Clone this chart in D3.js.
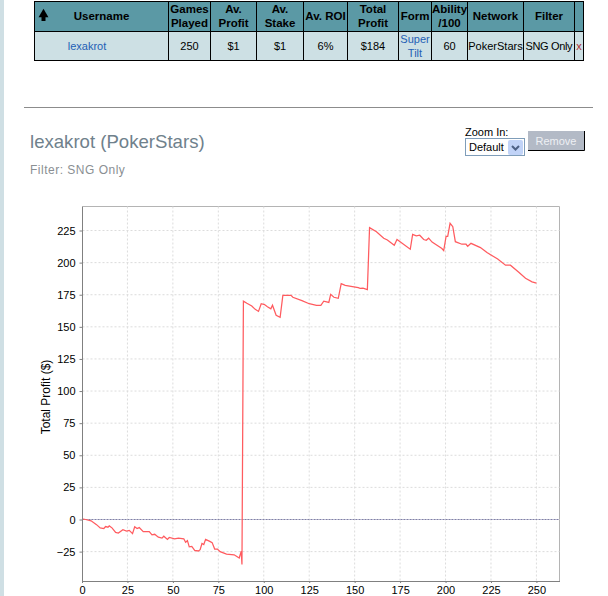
<!DOCTYPE html>
<html>
<head>
<meta charset="utf-8">
<script src="https://cdn.jsdelivr.net/npm/d3@7"></script>
<style>
  html, body { margin: 0; padding: 0; background: #fff; overflow: hidden; }
  text { font-family: "Liberation Sans", Arial, sans-serif; }
</style>
</head>
<body>
<div id="page"></div>
<script>
// table
var headerLines = [["Username"], ["Games", "Played"], ["Av.", "Profit"], ["Av.", "Stake"], ["Av. ROI"],
                   ["Total", "Profit"], ["Form"], ["Ability", "/100"], ["Network"], ["Filter"], [""]];
var rowLines = [["lexakrot"], ["250"], ["$1"], ["$1"], ["6%"], ["$184"], ["Super", "Tilt"], ["60"],
                ["PokerStars"], ["SNG Only"], ["x"]];
var columnEdges = [34.5, 168.5, 210.5, 256.5, 303.5, 347.5, 398.5, 431.5, 467.5, 523.5, 574.5, 583.5];

// chart data
var games = [0, 2, 5, 8, 10, 12, 13, 14.3, 15, 16.5, 18.5, 20, 22.5, 24.5, 26, 27.8, 29, 30.3, 31.5, 33.7, 37, 38.5, 40, 42, 44, 45, 47, 48, 51, 53, 56, 57, 58, 59, 60.4, 62, 64, 65, 66, 67, 68, 70.3, 71.6, 73, 74.5, 76, 79.5, 83.7, 86.5, 87.6, 88,
             88.8, 90.7, 93.4, 95.3, 97.1, 98.6, 100.4, 102, 103.9, 104.8, 106.8, 109, 110.5, 115, 116, 121, 125, 129, 131.4, 133, 135.8, 136.8, 138.6, 141, 142.6, 144.8, 152, 153, 154.6, 157, 158.2, 162, 166, 168, 171.8, 173.3, 175,
             180.6, 181.9, 183.9, 185.8, 188, 189.4, 190.7, 192.6, 195.3, 198, 199, 200.3, 201.2, 202.5, 204, 205.4, 209, 211.3, 212.2, 214, 219.2, 222.8, 228.7, 233, 235.7, 240.3, 244, 247.6, 250];
var profit = [0.5, 0, -1, -4, -6.5, -7, -5.5, -6, -5, -6.5, -10, -10.5, -8, -9, -8.5, -11, -5.7, -7, -6.3, -9.4, -9.4, -12, -11.5, -13.8, -14.5, -13, -15.5, -14, -15, -14.5, -15, -17.7, -16.5, -21.3, -21, -24, -24.5, -23.5, -18.7, -19.5, -15.5, -17, -18, -23, -23, -25, -27, -27.5, -30, -24.7, -35,
              170, 168.3, 166.2, 163.6, 162, 168, 167.3, 165.7, 164, 166.8, 159, 157.4, 174.5, 174.5, 173, 170.4, 168, 166.8, 166.8, 170, 169, 175.3, 173, 172.2, 183.6, 182.3, 180.5, 180, 180.2, 179, 227.2, 224, 219, 217.6, 213.5, 218, 216.3,
              210.4, 222, 220.8, 221.3, 218, 217.4, 219, 216, 213.5, 211, 209.3, 220.5, 220.5, 230.6, 228, 216.3, 214.3, 214.3, 212.7, 215, 211.7, 207.8, 202.8, 198, 198, 192.5, 187.8, 185, 184];
var xTicks = [0, 25, 50, 75, 100, 125, 150, 175, 200, 225, 250];
var yTicks = [-25, 0, 25, 50, 75, 100, 125, 150, 175, 200, 225];

var svg = d3.select("#page").append("svg")
    .attr("width", 608)
    .attr("height", 596)
    .style("display", "block");

// page furniture
svg.append("rect").attr("width", 4).attr("height", 596).attr("fill", "#cfdfe4");
svg.append("line").attr("x1", 24).attr("x2", 593).attr("y1", 107.5).attr("y2", 107.5).attr("stroke", "#8c8c8c");

// table cells
var tableRows = [
    {lines: headerLines, top: 1.5, bottom: 31.5, fill: "#5b99a5", dy: 3},
    {lines: rowLines, top: 31.5, bottom: 60.5, fill: "#cde0e4", dy: 4}
];
tableRows.forEach(function(row, r) {
    row.lines.forEach(function(lines, c) {
        var x0 = columnEdges[c], x1 = columnEdges[c + 1];
        svg.append("rect")
            .attr("x", x0).attr("y", row.top)
            .attr("width", x1 - x0).attr("height", row.bottom - row.top)
            .attr("fill", row.fill).attr("stroke", "#000").attr("stroke-width", 1);

        var color = "#000";
        if (r == 1 && (c == 0 || c == 6)) color = "#1f5fb5";
        if (r == 1 && c == 10) color = "#b03030";
        var midY = (row.top + row.bottom) / 2;
        // the username cell text sits left of centre in the data row
        var midX = (r == 1 && c == 0) ? 87 : (x0 + x1) / 2;
        lines.forEach(function(t, i) {
            svg.append("text")
                .attr("x", midX)
                .attr("y", midY + row.dy + (i - (lines.length - 1) / 2) * 14)
                .attr("text-anchor", "middle")
                .attr("font-size", r == 0 ? 11.5 : 11)
                .attr("font-weight", r == 0 ? "bold" : "normal")
                .attr("fill", color)
                .attr("textLength", (r == 1 && c == 9) ? 47 : null)
                .text(t);
        });
    });
});

// sort arrow in the username header
svg.append("path")
    .attr("d", d3.symbol(d3.symbolTriangle, 42))
    .attr("transform", "translate(43.5,14.5)")
    .attr("fill", "#000");
svg.append("rect").attr("x", 41.5).attr("y", 15).attr("width", 4).attr("height", 6).attr("fill", "#000");

// chart heading
svg.append("text").attr("x", 30).attr("y", 148).attr("font-size", 18.6).attr("fill", "#6f818c").text("lexakrot (PokerStars)");
svg.append("text").attr("x", 30).attr("y", 174).attr("font-size", 12).attr("letter-spacing", 0.5).attr("fill", "#8a8f93").text("Filter: SNG Only");

// zoom controls
svg.append("text").attr("x", 465).attr("y", 136).attr("font-size", 11).attr("fill", "#000").text("Zoom In:");
svg.append("rect").attr("x", 465.5).attr("y", 138.5).attr("width", 59).attr("height", 17)
    .attr("fill", "#fff").attr("stroke", "#7f9db9");
svg.append("text").attr("x", 469).attr("y", 151).attr("font-size", 11).attr("fill", "#000").text("Default");
svg.append("rect").attr("x", 508).attr("y", 140).attr("width", 15).attr("height", 15).attr("rx", 2).attr("fill", "#c1d3f7");
svg.append("path").attr("d", "M512,146 L515.5,149.5 L519,146").attr("fill", "none")
    .attr("stroke", "#4d6185").attr("stroke-width", 2);
svg.append("rect").attr("x", 528).attr("y", 131).attr("width", 56).attr("height", 19).attr("fill", "#b3bac6");
svg.append("path").attr("d", "M528,150.5 H584.5 V131").attr("fill", "none").attr("stroke", "#000");
svg.append("text").attr("x", 556).attr("y", 145).attr("text-anchor", "middle").attr("font-size", 11)
    .attr("fill", "#eef0f4").text("Remove");

// plot area
var plot = {left: 82.5, right: 559.5, top: 206.5, bottom: 581};
var xScale = d3.scaleLinear().domain([0, 262.7]).range([plot.left - 0.5, plot.right]);
var yScale = d3.scaleLinear().domain([0, 225]).range([519.5, 230.5]);

svg.append("path")
    .attr("d", `M${plot.left},${plot.top} H${plot.right} V${plot.bottom}`)
    .attr("fill", "none").attr("stroke", "#b4b4b4");

// grid
var grid = svg.append("g").attr("stroke", "#dcdcdc").attr("stroke-dasharray", "2,2");
grid.selectAll(".gx").data(xTicks.slice(1)).join("line")
    .attr("x1", d => xScale(d)).attr("x2", d => xScale(d))
    .attr("y1", plot.top).attr("y2", plot.bottom);
grid.selectAll(".gy").data(yTicks).join("line")
    .attr("x1", plot.left).attr("x2", plot.right)
    .attr("y1", d => yScale(d)).attr("y2", d => yScale(d));

// zero line
svg.append("line")
    .attr("x1", plot.left).attr("x2", plot.right)
    .attr("y1", yScale(0)).attr("y2", yScale(0))
    .attr("stroke", "#7f7fa8").attr("stroke-dasharray", "2,1");

// profit line
var profitLine = d3.line().x(d => xScale(d)).y((d, i) => yScale(profit[i]));
svg.append("path")
    .attr("d", profitLine(games))
    .attr("fill", "none").attr("stroke", "#ff5b5f").attr("stroke-width", 1.25);

// axes
var xAxis = svg.append("g").attr("transform", `translate(0,${plot.bottom})`)
    .call(d3.axisBottom(xScale).tickValues(xTicks).tickSizeInner(2).tickSizeOuter(0).tickPadding(3));
var yAxis = svg.append("g").attr("transform", `translate(${plot.left},0)`)
    .call(d3.axisLeft(yScale).tickValues(yTicks).tickSizeInner(3).tickSizeOuter(0).tickPadding(4));
yAxis.select(".domain").attr("d", `M0,${plot.top} V${plot.bottom}`);
[xAxis, yAxis].forEach(function(a) {
    a.select(".domain").attr("stroke", "#808080");
    a.selectAll(".tick line").attr("stroke", "#808080");
    a.selectAll("text").attr("font-size", 11).attr("font-family", "'Liberation Sans', Arial, sans-serif").attr("fill", "#000");
});

svg.append("text")
    .attr("transform", "translate(50,397) rotate(-90)")
    .attr("text-anchor", "middle")
    .attr("font-size", 12)
    .attr("fill", "#000")
    .text("Total Profit ($)");
</script>
</body>
</html>
